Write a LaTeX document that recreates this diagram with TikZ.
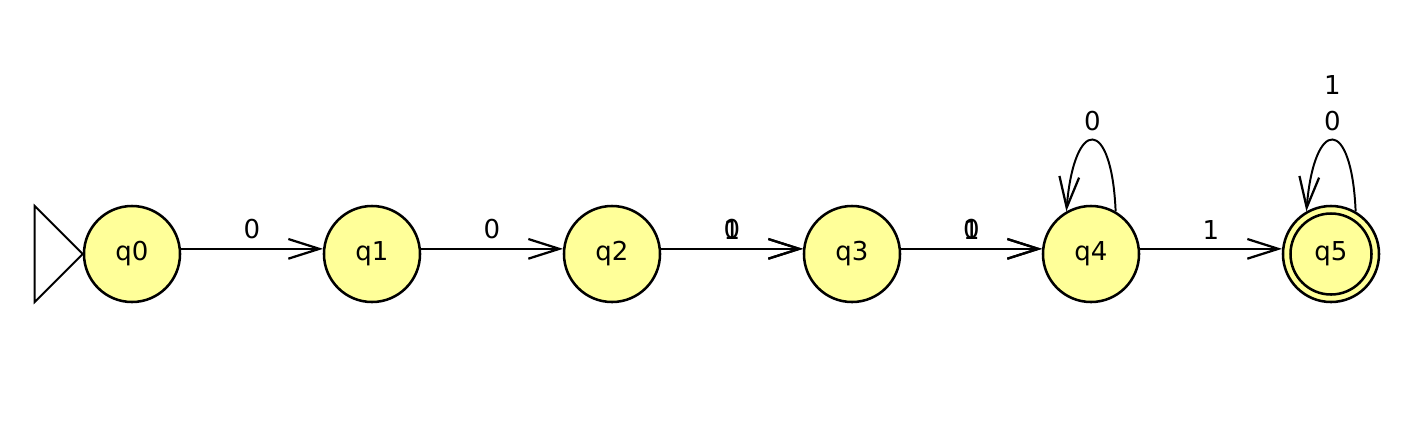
\documentclass[tikz,border=0pt]{standalone}
\usepackage{fontspec}
\setmainfont{DejaVu Sans}
\usepackage{tikz}
\usetikzlibrary{arrows.meta}
\definecolor{statefill}{RGB}{255,255,153}

\begin{document}
\begin{tikzpicture}[x=0.025cm, y=-0.025cm, line width=1.8pt,
	font=\fontsize{18.5}{22}\selectfont,
	state/.style={circle, draw, fill=statefill, minimum size=2.4cm, inner sep=0pt},
	lbl/.style={above=6pt, inner sep=0pt},
	>={Straight Barb[length=22pt, width=14pt, line width=1.6pt]}]
	\useasboundingbox (0,0) rectangle (1423,430);
	\node[state] (q0) at (132,254) {q0};
	\node[state] (q1) at (372,254) {q1};
	\node[state] (q2) at (612,254) {q2};
	\node[state] (q3) at (852,254) {q3};
	\node[state] (q4) at (1091,254) {q4};
	\node[state] (q5) at (1331,254) {q5};
	\draw (q5.center) circle[radius=40.5];
	% start marker
	\draw[line width=1.4pt] (q0.west) -- ++(-48,-48) -- ++(0,96) -- cycle;
	\path[->]
		(q0.6) edge node [lbl] {0} (q1.174)
		(q1.6) edge node [lbl] {0} (q2.174)
		(q2.6) edge node [lbl] {0} (q3.174)
		(q2.6) edge node [lbl] {1} (q3.174)
		(q3.6) edge node [lbl] {0} (q4.174)
		(q3.6) edge node [lbl] {1} (q4.174)
		(q4.6) edge node [lbl] {1} (q5.174);
	\draw[->, line width=1.4pt] (q4.60) .. controls +(-4,-95) and +(8,-95) .. (q4.120)
		node [pos=0.5, lbl] {0};
	\draw[->, line width=1.4pt] (q5.60) .. controls +(-4,-95) and +(8,-95) .. (q5.120)
		node [pos=0.5, lbl] (q5l) {0};
	\node [above=10pt, inner sep=0pt] at (q5l.north) {1};
\end{tikzpicture}
\end{document}
